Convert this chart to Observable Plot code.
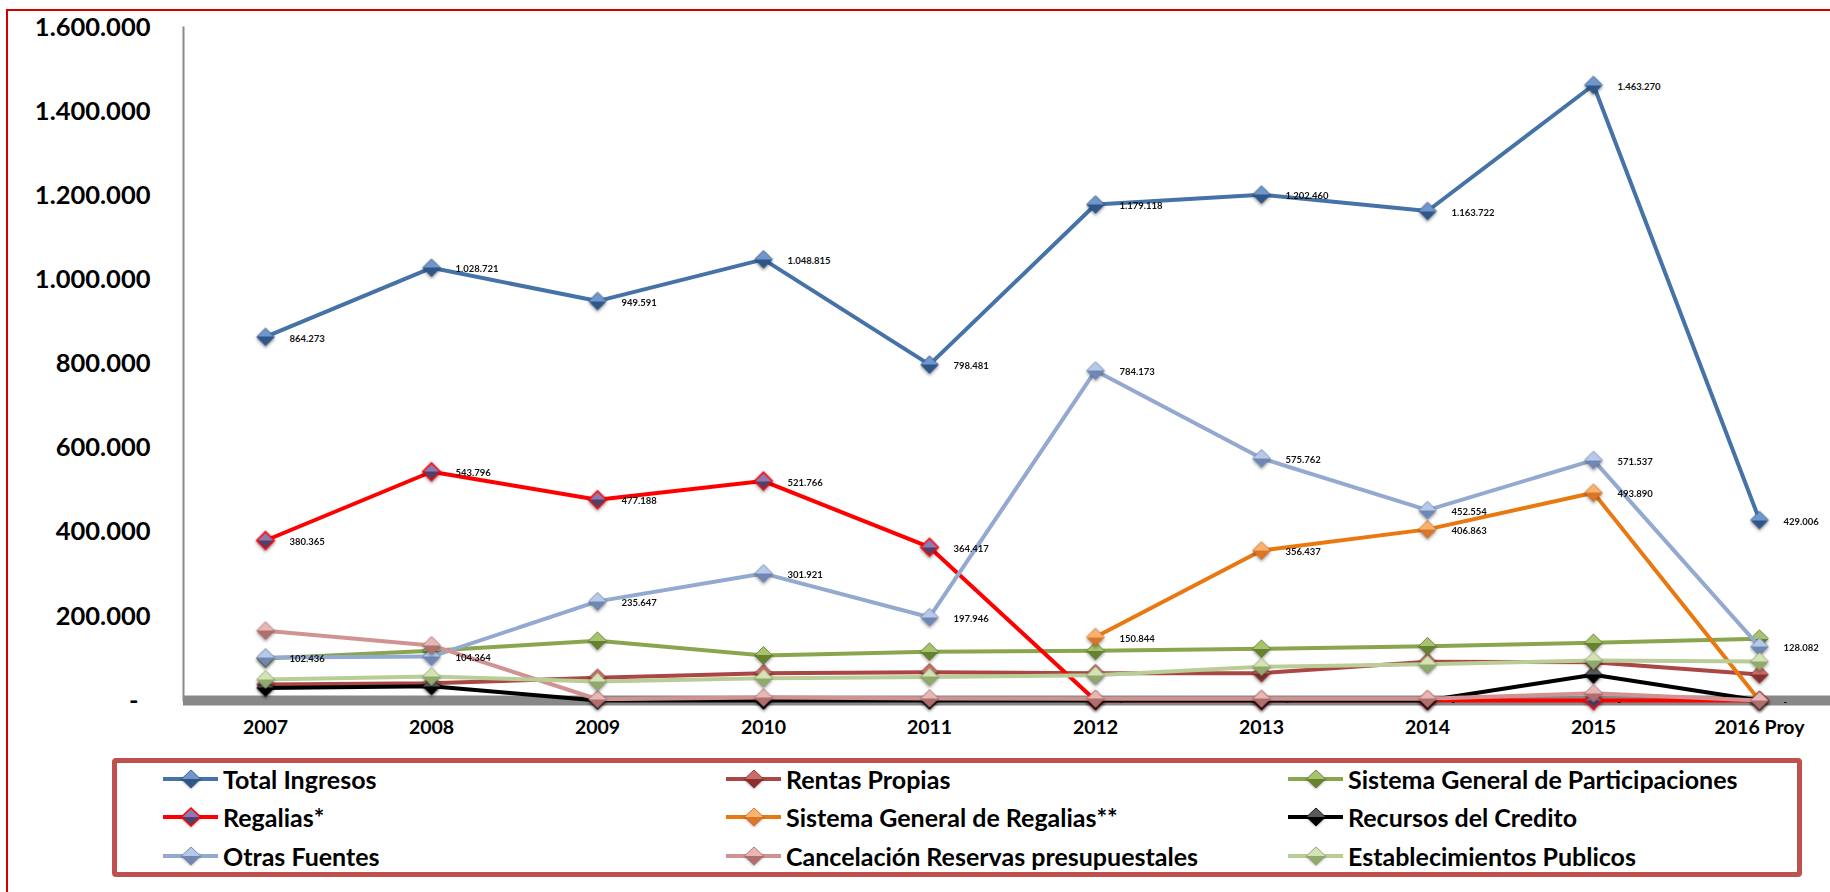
<!DOCTYPE html>
<html>
<head>
<meta charset="utf-8">
<script src="https://cdn.jsdelivr.net/npm/d3@7"></script>
<script src="https://cdn.jsdelivr.net/npm/@observablehq/plot@0.6"></script>
<style>
  html, body { margin: 0; padding: 0; background: #fff; }
  #page { position: relative; width: 1830px; height: 892px; overflow: hidden; background: #fff; font-family: Lato, "Open Sans", sans-serif; }
  #frame { position: absolute; left: 6px; top: 9px; width: 1900px; height: 1000px; border: 2px solid #d40000; box-sizing: border-box; }
  #chart { position: absolute; left: 0; top: 0; }
  #legend-box { position: absolute; left: 112px; top: 758px; width: 1690px; height: 119px; border: 5px solid #c0504d; border-radius: 4px; box-sizing: border-box; }
  .legend-item { position: absolute; height: 30px; display: flex; align-items: center; font-weight: bold; font-size: 25px; color: #000; white-space: nowrap; }
  .legend-item span { margin-left: 5px; }
  #chart svg g[aria-label="dot"] { filter: drop-shadow(0px 2px 1.5px rgba(0,0,0,0.35)); }
</style>
</head>
<body>
<div id="page">
  <svg id="defs-holder" width="0" height="0" style="position:absolute"></svg>
  <div id="frame"></div>
  <div id="chart"></div>
  <div id="legend-box"></div>
</div>
<script>
// Categories (x axis)
const years = ["2007", "2008", "2009", "2010", "2011", "2012", "2013", "2014", "2015", "2016 Proy"];

// Series values (millones de pesos)
const totalIngresos = [864273, 1028721, 949591, 1048815, 798481, 1179118, 1202460, 1163722, 1463270, 429006];
const rentasPropias = [38000, 41000, 54000, 65000, 67000, 65000, 65000, 92000, 91000, 62000];
const sistemaGeneralParticipaciones = [100000, 118000, 142000, 107000, 116000, 118000, 123000, 129000, 137000, 147000];
const regalias = [380365, 543796, 477188, 521766, 364417, 0, 0, 0, 0, 0];
const sistemaGeneralRegalias = [null, null, null, null, null, 150844, 356437, 406863, 493890, 0];
const recursosCredito = [30000, 34000, 0, 0, 0, 0, 0, 0, 61000, 0];
const otrasFuentes = [102436, 104364, 235647, 301921, 197946, 784173, 575762, 452554, 571537, 128082];
const cancelacionReservas = [166000, 131000, 3000, 7000, 5000, 4000, 4000, 4000, 17000, 0];
const establecimientosPublicos = [50000, 57000, 45000, 53000, 56000, 60000, 80000, 86000, 95000, 93000];

// Y axis tick values
const yTicks = [0, 200000, 400000, 600000, 800000, 1000000, 1200000, 1400000, 1600000];

// Series names, in drawing / legend order
const seriesNames = [
  "Total Ingresos", "Rentas Propias", "Sistema General de Participaciones",
  "Regalias*", "Sistema General de Regalias**", "Recursos del Credito",
  "Otras Fuentes", "Cancelación Reservas presupuestales", "Establecimientos Publicos"
];
const seriesValues = [
  totalIngresos, rentasPropias, sistemaGeneralParticipaciones,
  regalias, sistemaGeneralRegalias, recursosCredito,
  otrasFuentes, cancelacionReservas, establecimientosPublicos
];
// Series that carry value labels
const labeledSeries = ["Total Ingresos", "Regalias*", "Sistema General de Regalias**", "Otras Fuentes"];

// Styling
const lineColors = ["#4572A7", "#AA4643", "#89A54E", "#FF0000", "#E8780F", "#000000", "#93A9CF", "#D19392", "#B9CD96"];
const markerLight = ["#6f97cc", "#c96d6a", "#a7c36c", "#8e7ab0", "#fbb26e", "#5a5a5a", "#b7c9e8", "#e7b7b6", "#d3e3b5"];
const markerDark  = ["#2f5689", "#8a2f2d", "#66812f", "#52406c", "#db7628", "#000000", "#6e87b3", "#b06e6d", "#91a96b"];
const markerStroke = ["#2c4f7e", "#7f2a28", "#5e782c", "#ff0000", "#c8691f", "#000000", "#6a82ad", "#a86a69", "#8aa166"];

// Number formatting: thousands with "." and zero shown as "-"
const fmt = d3.formatLocale({decimal: ",", thousands: ".", grouping: [3], currency: ["$", ""]}).format(",d");
const labelFmt = v => (v === 0 ? "-" : fmt(v));

// Gradient fills for the diamond markers
const defs = d3.select("#defs-holder").append("defs");
seriesNames.forEach((_, i) => {
  const g = defs.append("linearGradient").attr("id", `mk-${i}`)
    .attr("x1", 0).attr("y1", 0).attr("x2", 0).attr("y2", 1);
  g.append("stop").attr("offset", "0").attr("stop-color", markerLight[i]);
  g.append("stop").attr("offset", "0.5").attr("stop-color", markerLight[i]);
  g.append("stop").attr("offset", "0.5").attr("stop-color", markerDark[i]);
  g.append("stop").attr("offset", "1").attr("stop-color", markerDark[i]);
});

// Long table
const rows = seriesNames.flatMap((series, i) =>
  years.map((year, j) => ({series, idx: i, year, value: seriesValues[i][j]}))
);

const marks = [
  Plot.ruleY([0], {stroke: "#888888", strokeWidth: 10}),
  Plot.frame({anchor: "left", stroke: "#8a8a8a", strokeWidth: 2}),
  Plot.axisY({ticks: yTicks.filter(d => d > 0), tickSize: 0, tickPadding: 33, tickFormat: fmt,
              fontSize: 25.5, fontWeight: "bold", fill: "#000", label: null}),
  Plot.axisY({ticks: yTicks.filter(d => d === 0), tickSize: 0, tickPadding: 45, tickFormat: () => "-",
              fontSize: 25.5, fontWeight: "bold", fill: "#000", label: null}),
  Plot.axisX({tickSize: 0, tickPadding: 20, fontSize: 19.5, fontWeight: "bold", fill: "#000", label: null})
];

seriesNames.forEach((name, i) => {
  const data = rows.filter(d => d.idx === i);
  marks.push(Plot.line(data, {
    x: "year", y: "value", stroke: lineColors[i], strokeWidth: 4,
    strokeLinejoin: "round", strokeLinecap: "round"
  }));
  marks.push(Plot.dot(data.filter(d => d.value != null), {
    x: "year", y: "value", symbol: "diamond2", r: 8,
    fill: `url(#mk-${i})`, stroke: markerStroke[i], strokeWidth: i === 3 ? 1.5 : 0.8
  }));
});

marks.push(Plot.text(rows.filter(d => labeledSeries.includes(d.series) && d.value != null), {
  x: "year", y: "value", text: d => labelFmt(d.value),
  dx: 24, dy: 1.5, textAnchor: "start", fontSize: 9.5, fontWeight: "bold", fill: "#111"
}));

const chart = Plot.plot({
  width: 1830,
  height: 745,
  marginLeft: 183,
  marginRight: 0,
  marginTop: 27,
  marginBottom: 45,
  style: {fontFamily: "Lato, 'Open Sans', sans-serif", background: "transparent", overflow: "visible"},
  x: {type: "point", domain: years, range: [264, 1760], padding: 0},
  y: {domain: [0, 1600000]},
  marks
});
document.getElementById("chart").append(chart);

// Legend: three columns, rows in series order
const legendCols = [163, 726, 1288];
const legendRows = [779, 817, 856];
const page = d3.select("#page");
seriesNames.forEach((name, i) => {
  const item = page.append("div").attr("class", "legend-item")
    .style("left", legendCols[i % 3] + "px")
    .style("top", (legendRows[Math.floor(i / 3)] - 15) + "px");
  const sw = item.append("svg").attr("width", 55).attr("height", 30)
    .style("overflow", "visible");
  sw.append("line").attr("x1", 0).attr("x2", 55).attr("y1", 15).attr("y2", 15)
    .attr("stroke", lineColors[i]).attr("stroke-width", 4);
  sw.append("path").attr("d", "M28,6L37.5,15L28,24L18.5,15Z")
    .attr("fill", `url(#mk-${i})`).attr("stroke", markerStroke[i])
    .attr("stroke-width", i === 3 ? 1.5 : 0.8)
    .style("filter", "drop-shadow(0px 1.5px 1px rgba(0,0,0,0.3))");
  item.append("span").text(name);
});
</script>
</body>
</html>
